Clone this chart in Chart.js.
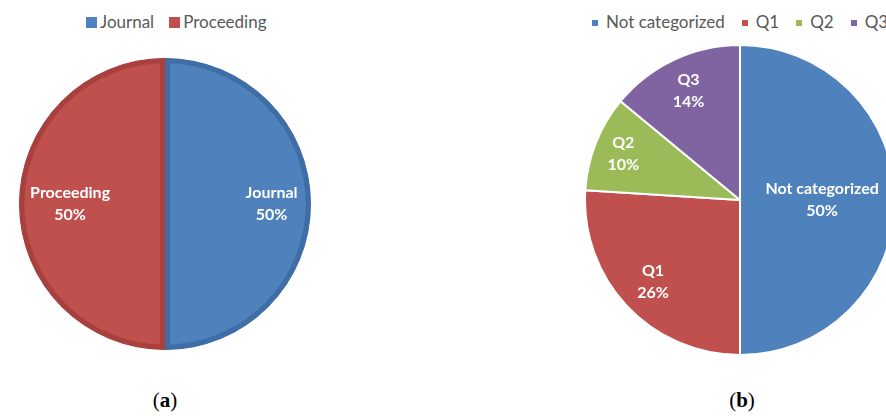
<!DOCTYPE html>
<html>
<head>
<meta charset="utf-8">
<script src="https://cdn.jsdelivr.net/npm/chart.js@4/dist/chart.umd.min.js"></script>
<style>
  html, body { margin: 0; padding: 0; background: #fff; }
  body { width: 886px; height: 416px; position: relative; overflow: hidden; font-family: Lato, "Open Sans", sans-serif; }
  .box { position: absolute; }
  .legend { position: absolute; white-space: nowrap; color: #595959; font-size: 17px; line-height: 20px; }
  .legend i { display: inline-block; vertical-align: middle; position: relative; top: -1px; }
  .caption { position: absolute; font-family: "Liberation Serif", serif; font-size: 21px; width: 60px; text-align: center; }
</style>
</head>
<body>

<div class="legend" id="legendA" style="left:86px; top:12px;"></div>
<div class="box" style="left:19px; top:58px; width:292px; height:292px;"><canvas id="chartA"></canvas></div>

<div class="legend" id="legendB" style="left:592px; top:12px;"></div>
<div class="box" style="left:584px; top:44px; width:312px; height:312px;"><canvas id="chartB"></canvas></div>

<div class="caption" style="left:135px; top:388px;">(<b>a</b>)</div>
<div class="caption" style="left:712px; top:388px;">(<b>b</b>)</div>

<script>
// publication type split
const typeLabels = ['Journal', 'Proceeding'];
const typeShare = [50, 50];
const typeColors = ['#4F81BD', '#C0504D'];
const typeEdges = ['#3F6DA5', '#A8413E'];

// journal ranking split
const rankLabels = ['Not categorized', 'Q1', 'Q2', 'Q3'];
const rankShare = [50, 26, 10, 14];
const rankColors = ['#4F81BD', '#C0504D', '#9BBB59', '#8064A2'];

// writes "name / pct%" inside every slice, at a chosen fraction of the radius
const sliceLabels = {
  id: 'sliceLabels',
  afterDatasetsDraw(chart, args, opts) {
    const ctx = chart.ctx;
    const meta = chart.getDatasetMeta(0);
    const data = chart.data.datasets[0].data;
    ctx.save();
    ctx.fillStyle = '#fff';
    ctx.font = 'bold 16px Lato, "Open Sans", sans-serif';
    ctx.textAlign = 'center';
    ctx.textBaseline = 'middle';
    meta.data.forEach((arc, i) => {
      const p = arc.getProps(['x', 'y', 'startAngle', 'endAngle', 'outerRadius'], true);
      const mid = (p.startAngle + p.endAngle) / 2;
      const r = p.outerRadius * opts.radius[i];
      const x = p.x + Math.cos(mid) * r;
      const y = p.y + Math.sin(mid) * r;
      ctx.fillText(chart.data.labels[i], x, y - 11);
      ctx.fillText(data[i] + '%', x, y + 11);
    });
    ctx.restore();
  }
};

function makeLegend(id, labels, colors, size, boxGap, gap) {
  const el = document.getElementById(id);
  labels.forEach((l, i) => {
    const s = document.createElement('span');
    s.style.marginRight = gap + 'px';
    s.innerHTML = '<i style="width:' + size + 'px;height:' + size + 'px;margin-right:' + boxGap +
      'px;background:' + colors[i] + '"></i>' + l;
    el.appendChild(s);
  });
}

makeLegend('legendA', typeLabels, typeColors, 11, 3, 15);
makeLegend('legendB', rankLabels, rankColors, 6, 8, 17);

const common = {
  responsive: true,
  maintainAspectRatio: false,
  animation: false,
  events: [],
  layout: { padding: 0 },
  plugins: { legend: { display: false }, tooltip: { enabled: false } }
};

new Chart(document.getElementById('chartA'), {
  type: 'pie',
  data: {
    labels: typeLabels,
    datasets: [{
      data: typeShare,
      backgroundColor: typeColors,
      borderColor: typeEdges,
      borderWidth: 5,
      borderAlign: 'inner',
      hoverOffset: 0
    }]
  },
  options: Object.assign({}, common, {
    plugins: Object.assign({}, common.plugins, { sliceLabels: { radius: [0.73, 0.65] } })
  }),
  plugins: [sliceLabels]
});

new Chart(document.getElementById('chartB'), {
  type: 'pie',
  data: {
    labels: rankLabels,
    datasets: [{
      data: rankShare,
      backgroundColor: rankColors,
      borderColor: '#ffffff',
      borderWidth: 2,
      hoverOffset: 0
    }]
  },
  options: Object.assign({}, common, {
    plugins: Object.assign({}, common.plugins, { sliceLabels: { radius: [0.53, 0.77, 0.81, 0.78] } })
  }),
  plugins: [sliceLabels]
});
</script>
</body>
</html>
